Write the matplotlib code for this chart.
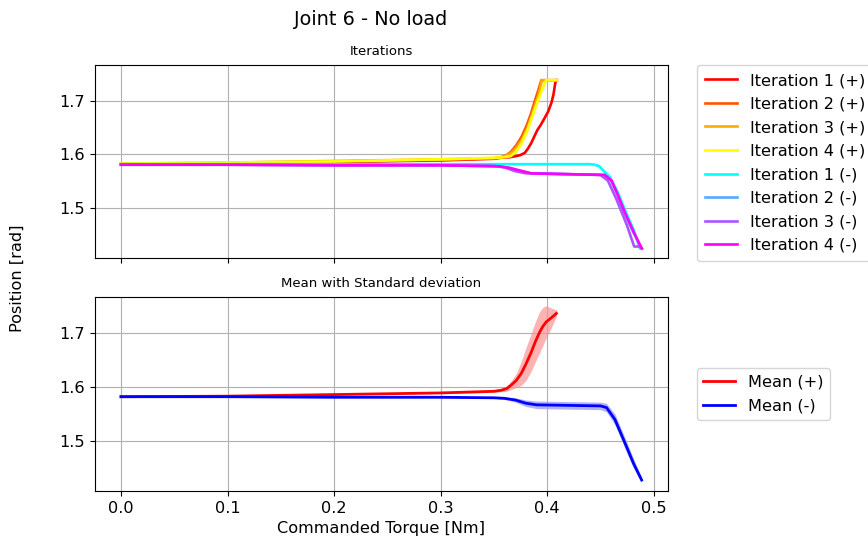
import matplotlib
matplotlib.use("Agg")
import matplotlib.pyplot as plt
import numpy as np

plt.rcParams['font.size'] = 11.6

# ---- iterations, positive direction (torque [Nm], position [rad])
it1_pos_x = [0.0, 0.1, 0.2, 0.3, 0.35, 0.357, 0.365, 0.371, 0.375, 0.379, 0.382, 0.385, 0.389, 0.391, 0.394,
             0.3977, 0.401, 0.404, 0.406, 0.4077, 0.409]
it1_pos_y = [1.582, 1.583, 1.586, 1.589, 1.592, 1.594, 1.595, 1.597, 1.599, 1.603, 1.611, 1.621, 1.638, 1.646, 1.655,
             1.668, 1.680, 1.696, 1.712, 1.734, 1.738]
it2_pos_x = [0.0, 0.1, 0.2, 0.3, 0.35, 0.357, 0.362, 0.366, 0.371, 0.376, 0.381, 0.385, 0.388, 0.391, 0.3945, 0.409]
it2_pos_y = [1.582, 1.584, 1.587, 1.590, 1.593, 1.595, 1.599, 1.605, 1.617, 1.633, 1.655, 1.677, 1.697, 1.715, 1.738, 1.738]
it3_pos_x = [0.0, 0.1, 0.2, 0.3, 0.35, 0.358, 0.363, 0.367, 0.372, 0.377, 0.382, 0.386, 0.389, 0.392, 0.395, 0.409]
it3_pos_y = [1.583, 1.585, 1.588, 1.591, 1.593, 1.595, 1.599, 1.604, 1.615, 1.630, 1.652, 1.675, 1.694, 1.712, 1.738, 1.738]
it4_pos_x = [0.0, 0.1, 0.2, 0.3, 0.35, 0.36, 0.366, 0.371, 0.376, 0.381, 0.385, 0.389, 0.393, 0.396, 0.399, 0.409]
it4_pos_y = [1.583, 1.585, 1.587, 1.591, 1.594, 1.595, 1.597, 1.606, 1.621, 1.642, 1.665, 1.687, 1.709, 1.724, 1.738, 1.738]

# ---- iterations, negative direction
it1_neg_x = [0.0, 0.1, 0.2, 0.3, 0.4, 0.44, 0.4448, 0.449, 0.4526, 0.459, 0.4667, 0.473, 0.481, 0.487]
it1_neg_y = [1.582, 1.582, 1.582, 1.582, 1.582, 1.582, 1.581, 1.578, 1.5704, 1.558, 1.528, 1.497, 1.461, 1.4258]
it2_neg_x = [0.0, 0.1, 0.2, 0.3, 0.355, 0.365, 0.375, 0.385, 0.43, 0.454, 0.460, 0.466, 0.472, 0.480, 0.488]
it2_neg_y = [1.581, 1.581, 1.580, 1.580, 1.578, 1.575, 1.569, 1.565, 1.563, 1.562, 1.552, 1.525, 1.494, 1.459, 1.427]
it3_neg_x = [0.0, 0.1, 0.2, 0.3, 0.35, 0.36, 0.37, 0.38, 0.43, 0.45, 0.457, 0.465, 0.4746, 0.4817, 0.487, 0.489]
it3_neg_y = [1.581, 1.581, 1.580, 1.580, 1.579, 1.576, 1.569, 1.565, 1.563, 1.562, 1.5515, 1.517, 1.470, 1.429, 1.429, 1.425]
it4_neg_x = [0.0, 0.1, 0.2, 0.3, 0.355, 0.365, 0.375, 0.385, 0.43, 0.454, 0.4605, 0.4667, 0.473, 0.481, 0.4887]
it4_neg_y = [1.581, 1.581, 1.580, 1.580, 1.578, 1.575, 1.570, 1.565, 1.563, 1.562, 1.5515, 1.5233, 1.492, 1.457, 1.4258]

# ---- mean and standard deviation
mean_pos_x = [0.0, 0.1, 0.2, 0.3, 0.35, 0.357, 0.362, 0.366, 0.371, 0.3757, 0.380, 0.385, 0.389, 0.393,
              0.396, 0.399, 0.404, 0.4087]
mean_pos_y = [1.582, 1.583, 1.586, 1.589, 1.592, 1.594, 1.597, 1.603, 1.612, 1.625, 1.642, 1.664, 1.684, 1.7015,
              1.712, 1.720, 1.728, 1.736]
std_pos = [0.001, 0.001, 0.001, 0.001, 0.002, 0.003, 0.005, 0.008, 0.013, 0.022, 0.030, 0.035, 0.037, 0.038,
           0.035, 0.030, 0.018, 0.006]
mean_neg_x = [0.0, 0.1, 0.2, 0.3, 0.35, 0.36, 0.37, 0.38, 0.39, 0.42, 0.45, 0.4557, 0.4636, 0.473, 0.481, 0.4887]
mean_neg_y = [1.582, 1.582, 1.581, 1.581, 1.580, 1.579, 1.576, 1.570, 1.567, 1.566, 1.565, 1.562, 1.540, 1.4966, 1.459, 1.428]
std_neg = [0.001, 0.001, 0.001, 0.001, 0.001, 0.002, 0.004, 0.006, 0.007, 0.007, 0.007, 0.008, 0.010, 0.010, 0.009, 0.004]

pos_series = [(it1_pos_x, it1_pos_y), (it2_pos_x, it2_pos_y), (it3_pos_x, it3_pos_y), (it4_pos_x, it4_pos_y)]
neg_series = [(it1_neg_x, it1_neg_y), (it2_neg_x, it2_neg_y), (it3_neg_x, it3_neg_y), (it4_neg_x, it4_neg_y)]

fig = plt.figure(figsize=(8.68, 5.41), dpi=100)
ax1 = fig.add_axes([0.1094, 0.5231, 0.6602, 0.3568])
ax2 = fig.add_axes([0.1094, 0.0924, 0.6602, 0.3586], sharex=ax1, sharey=ax1)

pos_colors = plt.cm.autumn(np.linspace(0, 1, 4))
neg_colors = plt.cm.cool(np.linspace(0, 1, 4))

for i, (x, y) in enumerate(pos_series):
    ax1.plot(x, y, color=pos_colors[i], lw=1.9, label=f"Iteration {i + 1} (+)")
for i, (x, y) in enumerate(neg_series):
    ax1.plot(x, y, color=neg_colors[i], lw=1.9, label=f"Iteration {i + 1} (-)")

ax1.set_title("Iterations", fontsize=9.5, pad=7)
ax1.grid(True)
ax1.tick_params(labelbottom=False)
ax1.legend(loc='upper left', bbox_to_anchor=(1.05, 1.0), borderaxespad=0,
           labelspacing=0.53, borderpad=0.5)

mpx, mpy, spos = np.array(mean_pos_x), np.array(mean_pos_y), np.array(std_pos)
mnx, mny, sneg = np.array(mean_neg_x), np.array(mean_neg_y), np.array(std_neg)
ax2.plot(mpx, mpy, color='red', lw=2, label="Mean (+)")
ax2.fill_between(mpx, mpy - spos, mpy + spos, color='red', alpha=0.3, lw=0)
ax2.plot(mnx, mny, color='blue', lw=2, label="Mean (-)")
ax2.fill_between(mnx, mny - sneg, mny + sneg, color='blue', alpha=0.3, lw=0)

ax2.set_title("Mean with Standard deviation", fontsize=9.5, pad=7)
ax2.grid(True)
ax2.set_xlabel("Commanded Torque [Nm]")
ax2.legend(loc='center left', bbox_to_anchor=(1.05, 0.5), borderaxespad=0, labelspacing=0.53)

fig.suptitle("Joint 6 - No load", x=0.427, y=0.982, fontsize=13.9)
fig.text(0.02, 0.486, "Position [rad]", rotation=90, ha='center', va='center')

fig.savefig("out.png", dpi=100)
